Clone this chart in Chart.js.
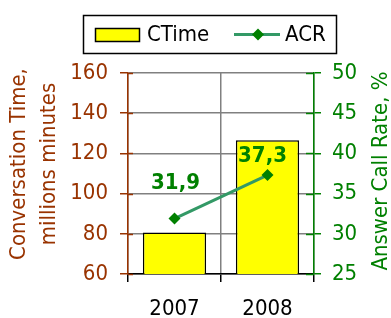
<!DOCTYPE html>
<html>
<head>
<meta charset="utf-8">
<script src="https://cdn.jsdelivr.net/npm/chart.js@4"></script>
<style>
  html, body { margin: 0; padding: 0; background: #fff; }
</style>
</head>
<body>
<canvas id="myChart" width="391" height="318"></canvas>
<script>
const years = ['2007', '2008']
const ctimeValues = [80.6, 126.6]
const acrValues = [31.9, 37.3]
const ctimeTicks = [60, 80, 100, 120, 140, 160]
const acrTicks = [25, 30, 35, 40, 45, 50]

const FONT = "'DejaVu Sans Condensed', 'DejaVu Sans', sans-serif"
const BROWN = '#993300'
const GREEN = '#008000'
const LINE_GREEN = '#339966'

Chart.defaults.font.family = FONT
Chart.defaults.font.size = 22

// valores do ACR escritos acima dos pontos (offset em px)
const acrLabelOffsets = [[1, -35], [-5, -19]]

const acrLabels = {
  id: 'acrLabels',
  afterDatasetsDraw(chart) {
    const ctx = chart.ctx
    const meta = chart.getDatasetMeta(1)
    ctx.save()
    ctx.font = 'bold 22px ' + FONT
    ctx.fillStyle = GREEN
    ctx.textAlign = 'center'
    ctx.textBaseline = 'middle'
    meta.data.forEach((pt, i) => {
      const txt = acrValues[i].toFixed(1).replace('.', ',')
      ctx.fillText(txt, pt.x + acrLabelOffsets[i][0], pt.y + acrLabelOffsets[i][1])
    })
    ctx.restore()
  }
}

// ticks que cruzam o eixo, titulos dos eixos e legenda com moldura
const extras = {
  id: 'extras',
  afterDraw(chart) {
    const ctx = chart.ctx
    const area = chart.chartArea
    const y = chart.scales.y
    const y1 = chart.scales.y1
    ctx.save()
    ctx.lineWidth = 1.5
    ctx.strokeStyle = BROWN
    y.ticks.forEach(t => {
      const py = Math.round(y.getPixelForValue(t.value)) + 0.5
      ctx.beginPath(); ctx.moveTo(area.left, py); ctx.lineTo(area.left + 5, py); ctx.stroke()
    })
    ctx.strokeStyle = GREEN
    y1.ticks.forEach(t => {
      const py = Math.round(y1.getPixelForValue(t.value)) + 0.5
      ctx.beginPath(); ctx.moveTo(area.right - 8, py); ctx.lineTo(area.right, py); ctx.stroke()
    })

    // titulos
    ctx.font = '22px ' + FONT
    ctx.textAlign = 'center'
    ctx.textBaseline = 'middle'
    ctx.fillStyle = BROWN
    ctx.save()
    ctx.translate(19, 164)
    ctx.rotate(-Math.PI / 2)
    ctx.fillText('Conversation Time,', 0, 0)
    ctx.fillText('millions minutes', 0, 30)
    ctx.restore()
    ctx.fillStyle = GREEN
    ctx.save()
    ctx.translate(381, 171)
    ctx.rotate(-Math.PI / 2)
    ctx.fillText('Answer Call Rate, %', 0, 0)
    ctx.restore()

    // legenda
    ctx.lineWidth = 1.5
    ctx.strokeStyle = '#000'
    ctx.strokeRect(83.5, 15.5, 253, 38)
    ctx.fillStyle = '#ffff00'
    ctx.fillRect(95, 28, 45, 14)
    ctx.strokeRect(95.5, 28.5, 44, 13)
    ctx.fillStyle = '#000'
    ctx.textAlign = 'left'
    ctx.fillText(chart.data.datasets[0].label, 147, 35)
    ctx.strokeStyle = LINE_GREEN
    ctx.lineWidth = 3
    ctx.beginPath(); ctx.moveTo(234, 34.5); ctx.lineTo(280, 34.5); ctx.stroke()
    ctx.fillStyle = GREEN
    ctx.beginPath()
    ctx.moveTo(258, 28.5); ctx.lineTo(264, 34.5); ctx.lineTo(258, 40.5); ctx.lineTo(252, 34.5)
    ctx.closePath(); ctx.fill()
    ctx.fillStyle = '#000'
    ctx.fillText(chart.data.datasets[1].label, 285, 35)
    ctx.restore()
  }
}

const data = {
  labels: years,
  datasets: [
    {
      type: 'line',
      label: 'ACR',
      data: acrValues,
      yAxisID: 'y1',
      borderColor: LINE_GREEN,
      borderWidth: 3,
      pointStyle: 'rectRot',
      pointRadius: 6,
      pointBackgroundColor: GREEN,
      pointBorderColor: GREEN,
      pointBorderWidth: 0,
      order: 0
    },
    {
      type: 'bar',
      label: 'CTime',
      data: ctimeValues,
      yAxisID: 'y',
      backgroundColor: '#ffff00',
      borderColor: '#000',
      borderWidth: 1.5,
      barPercentage: 0.68,
      categoryPercentage: 1,
      order: 1
    }
  ]
}

// reorganiza para o bar ficar como dataset 0 na legenda
data.datasets.reverse()

const config = {
  type: 'bar',
  data,
  plugins: [acrLabels, extras],
  options: {
    responsive: false,
    animation: false,
    layout: { padding: { top: 73, left: 0, right: 0, bottom: 0 } },
    plugins: {
      legend: { display: false },
      tooltip: { enabled: false }
    },
    scales: {
      x: {
        offset: true,
        grid: { offset: true, color: '#808080', lineWidth: 1.5, tickColor: '#000', tickLength: 8 },
        border: { color: '#000', width: 1.5 },
        ticks: { color: '#000', padding: 14 },
        afterFit(scale) { scale.height = 44 }
      },
      y: {
        position: 'left',
        min: 60,
        max: 160,
        afterBuildTicks(scale) { scale.ticks = ctimeTicks.map(v => ({ value: v })) },
        grid: { color: '#808080', lineWidth: 1.5, tickColor: BROWN, tickLength: 8 },
        border: { color: BROWN, width: 1.5 },
        ticks: { color: BROWN, padding: 12 },
        afterFit(scale) { scale.width = 128 }
      },
      y1: {
        position: 'right',
        min: 25,
        max: 50,
        afterBuildTicks(scale) { scale.ticks = acrTicks.map(v => ({ value: v })) },
        grid: { drawOnChartArea: false, tickColor: GREEN, tickLength: 7, lineWidth: 1.5 },
        border: { color: GREEN, width: 1.5 },
        ticks: { color: GREEN, padding: 11 },
        afterFit(scale) { scale.width = 77 }
      }
    }
  }
}

const myChart = new Chart(document.getElementById('myChart').getContext('2d'), config)
</script>
</body>
</html>
